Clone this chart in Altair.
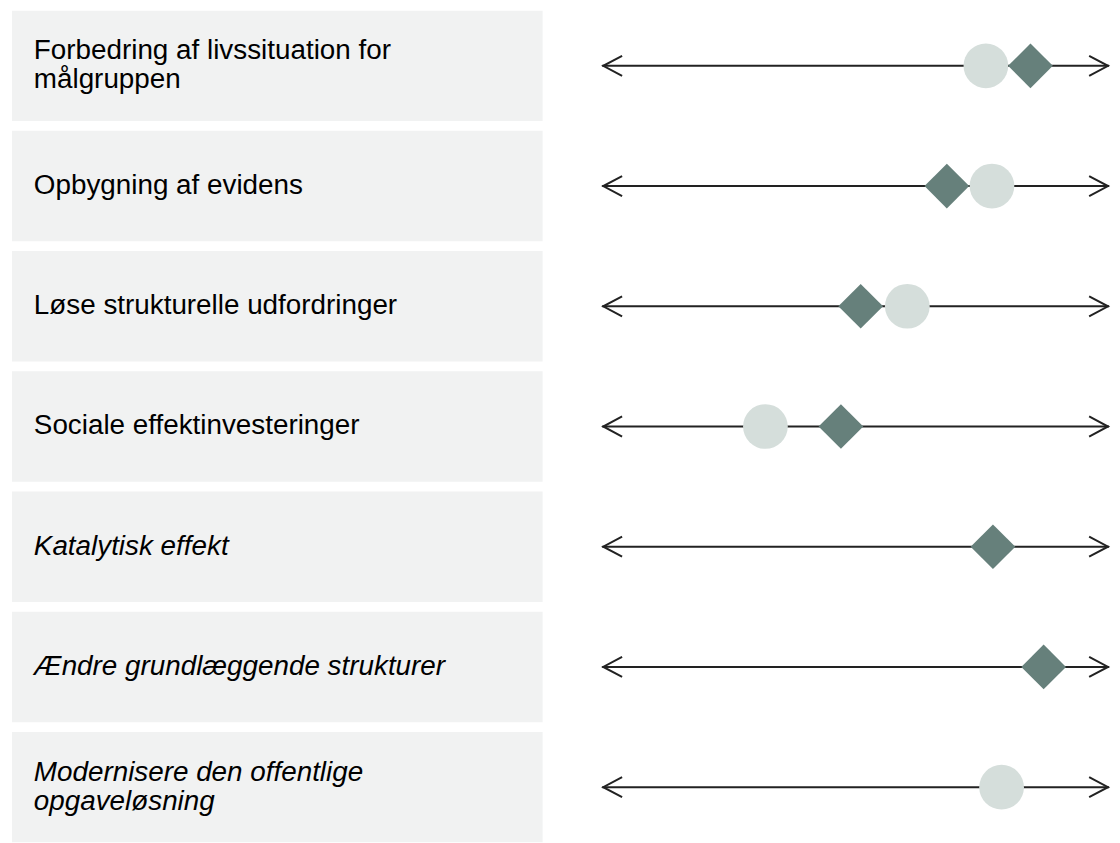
import altair as alt
import pandas as pd

rows = [
    "Forbedring af livssituation for\nmålgruppen",
    "Opbygning af evidens",
    "Løse strukturelle udfordringer",
    "Sociale effektinvesteringer",
    "Katalytisk effekt",
    "Ændre grundlæggende strukturer",
    "Modernisere den offentlige\nopgaveløsning",
]
italic = [False, False, False, False, True, True, True]
circle_vals = [75.7, 76.9, 60.2, 32.2, None, None, 78.8]
diamond_vals = [84.5, 68.0, 51.0, 47.1, 77.1, 87.1, None]

keys = [f"r{i}" for i in range(len(rows))]
df = pd.DataFrame({
    "key": keys,
    "label": rows,
    "italic": italic,
    "two": ["\n" in r for r in rows],
})
circ = pd.DataFrame({"key": keys, "v": circle_vals}).dropna()
diam = pd.DataFrame({"key": keys, "v": diamond_vals}).dropna()

BOX = "#f1f2f2"
CIRC = "#d5dedb"
DIAM = "#66807b"
LINE = "#222222"
FONT = "Liberation Sans"

yenc = alt.Y(
    "key:N",
    scale=alt.Scale(domain=keys, range=[0, 837], paddingInner=10 / 121, paddingOuter=0),
    axis=None,
)
xscale = alt.Scale(domain=[0, 100], range=[598, 1108])

boxes = alt.Chart(df).mark_rect(color=BOX).encode(
    y=yenc, x=alt.value(4), x2=alt.value(538)
)


def text_layer(it, two):
    cond = ("datum.italic" if it else "!datum.italic") + " && " + ("datum.two" if two else "!datum.two")
    return alt.Chart(df).transform_filter(cond).mark_text(
        align="left", baseline="middle", fontSize=28, font=FONT, color="#000000",
        fontStyle="italic" if it else "normal", lineBreak="\n", lineHeight=29,
        dy=-14.5 if two else 0,
    ).encode(y=yenc, x=alt.value(26), text="label:N")


texts = [text_layer(a, b) for a in (False, True) for b in (False, True)]

rule = alt.Chart(df).mark_rule(color=LINE, strokeWidth=2).encode(
    y=yenc, x=alt.value(598), x2=alt.value(1108)
)
left_head = alt.Chart(df).mark_point(
    shape="M1,-0.53L0,0L1,0.53", filled=False, stroke=LINE, strokeWidth=2, size=1444, opacity=1
).encode(y=yenc, x=alt.value(599))
right_head = alt.Chart(df).mark_point(
    shape="M-1,-0.53L0,0L-1,0.53", filled=False, stroke=LINE, strokeWidth=2, size=1444, opacity=1
).encode(y=yenc, x=alt.value(1107))

circles = alt.Chart(circ).mark_point(
    shape="circle", filled=True, color=CIRC, size=2025, opacity=1
).encode(y=yenc, x=alt.X("v:Q", scale=xscale, axis=None))
diamonds = alt.Chart(diam).mark_point(
    shape="diamond", filled=True, color=DIAM, size=2025, opacity=1
).encode(y=yenc, x=alt.X("v:Q", scale=xscale, axis=None))

chart = alt.layer(boxes, *texts, rule, left_head, right_head, circles, diamonds).properties(
    width=1110, height=827, padding=0
).configure_view(stroke=None)

chart.save("out.html", embed_options={"renderer": "svg", "actions": False})
